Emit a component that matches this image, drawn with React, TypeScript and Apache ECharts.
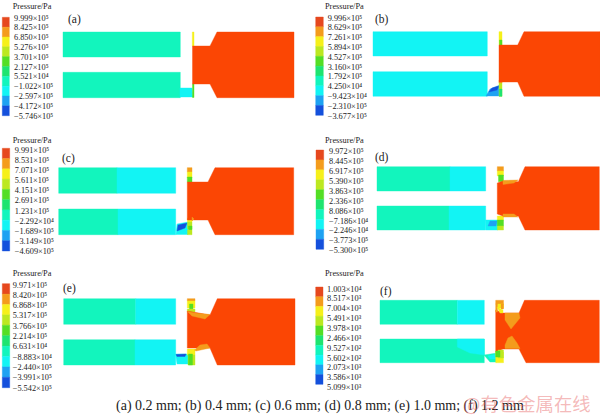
import React, { useEffect, useRef } from "react";
import * as echarts from "echarts";

const bandColors = ["#e6481e", "#f49c1c", "#f6f01a", "#bce820", "#54de24", "#1ee470", "#12f5bd", "#12f4f4", "#1ea2f2", "#1450dc"];
const bodyRed = "#fb4604";
const RED = 10;
const palette = [...bandColors, bodyRed];
const pressureTitle = "Pressure/Pa";

const labelsA = ["9.999×10⁵", "8.425×10⁵", "6.850×10⁵", "5.276×10⁵", "3.701×10⁵", "2.127×10⁵", "5.521×10⁴", "−1.022×10⁵", "−2.597×10⁵", "−4.172×10⁵", "−5.746×10⁵"];
const labelsB = ["9.996×10⁵", "8.629×10⁵", "7.261×10⁵", "5.894×10⁵", "4.527×10⁵", "3.160×10⁵", "1.792×10⁵", "4.250×10⁴", "−9.423×10⁴", "−2.310×10⁵", "−3.677×10⁵"];
const labelsC = ["9.991×10⁵", "8.531×10⁵", "7.071×10⁵", "5.611×10⁵", "4.151×10⁵", "2.691×10⁵", "1.231×10⁵", "−2.292×10⁴", "−1.689×10⁵", "−3.149×10⁵", "−4.609×10⁵"];
const labelsD = ["9.972×10⁵", "8.445×10⁵", "6.917×10⁵", "5.390×10⁵", "3.863×10⁵", "2.336×10⁵", "8.086×10⁵", "−7.186×10⁴", "−2.246×10⁴", "−3.773×10⁵", "−5.300×10⁵"];
const labelsE = ["9.971×10⁵", "8.420×10⁵", "6.868×10⁵", "5.317×10⁵", "3.766×10⁵", "2.214×10⁵", "6.631×10⁴", "−8.883×10⁴", "−2.440×10⁵", "−3.991×10⁵", "−5.542×10⁵"];
const labelsF = ["1.003×10⁴", "8.517×10³", "7.004×10³", "5.491×10³", "3.978×10³", "2.466×10³", "9.527×10²", "5.602×10²", "2.073×10³", "3.586×10³", "5.099×10³"];

const panelNames = ["(a)", "(b)", "(c)", "(d)", "(e)", "(f)"];
const panelLabels = [labelsA, labelsB, labelsC, labelsD, labelsE, labelsF];
const caption = "(a) 0.2 mm; (b) 0.4 mm; (c) 0.6 mm; (d) 0.8 mm; (e) 1.0 mm; (f) 1.2 mm";
const watermark = "@有色金属在线";

// [x0, x1, y0, y1, first label y, last label y, label x, title x, title y]
const legendBars = [
  [2.3, 9.3, 17.3, 115.7, 18, 116, 14, 12.7, 6.7],
  [315.7, 323.3, 17, 115.3, 18, 116, 327.7, 325, 6.7],
  [2.3, 9.7, 148.3, 251, 150, 251.7, 14.7, 12.7, 140],
  [316, 323.7, 150, 249.3, 151.7, 250.7, 329, 325, 140],
  [2.3, 9.7, 283.7, 387.7, 285, 388, 12.7, 12.7, 273.7],
  [315.7, 323, 287, 384.3, 289, 387.7, 327, 325, 273.7],
];
const panelTagPos = [[68, 19], [375, 19], [62, 157.5], [375, 157], [63, 288], [380, 290.5]];

type Shape = [number, number[]];
const poly = (c: number, ...p: number[]): Shape => [c, p];
const rect = (c: number, x0: number, y0: number, x1: number, y1: number): Shape => [c, [x0, y0, x1, y0, x1, y1, x0, y1]];

const shapesA: Shape[] = [
  rect(6, 63, 32, 180.3, 57),
  rect(6, 63, 72.3, 180.3, 97.7),
  poly(7, 180, 88, 192, 88, 193, 97, 180, 97),
  rect(2, 192.3, 32, 194, 46),
  rect(4, 192.5, 84, 194, 97.5),
  poly(RED, 192.5, 46, 210, 46, 217, 32, 294, 32, 294, 97.7, 217, 97.7, 210, 84, 192.5, 84),
];
const shapesB: Shape[] = [
  rect(7, 373, 31.7, 487.3, 56),
  rect(7, 373, 71.7, 487.3, 96.3),
  poly(8, 486, 96, 490, 89, 500, 85, 500, 96),
  poly(9, 489, 92, 492, 88, 499, 86, 497, 90),
  rect(2, 499, 31.7, 502, 45),
  rect(4, 499.5, 40, 502, 45),
  rect(3, 499, 82, 502, 96.3),
  rect(5, 499.5, 89, 502, 96.3),
  rect(1, 499, 80, 502, 83),
  poly(RED, 499, 45, 517.7, 45, 524, 31.7, 600, 31.7, 600, 96.3, 524, 96.3, 517.7, 82, 499, 82),
];
const shapesC: Shape[] = [
  rect(6, 58.7, 167.7, 117, 193.3),
  rect(7, 117, 167.7, 175.7, 193.3),
  rect(6, 58.7, 209, 118, 234.7),
  rect(7, 118, 209, 175.7, 234.7),
  poly(7, 176, 234.5, 177, 224, 188, 222, 188, 234.5),
  poly(9, 177, 231, 178, 225, 187, 223, 185, 228),
  rect(1, 187.3, 167.7, 192, 172),
  rect(2, 187.3, 172, 192, 178),
  rect(4, 187.3, 177, 192, 182),
  rect(2, 187.5, 218, 192, 222),
  rect(3, 187.5, 222, 192, 229),
  rect(4, 188.5, 226, 192, 230),
  rect(3, 187.5, 230, 192, 234.7),
  poly(RED, 187.3, 182, 208, 182, 215, 167.7, 293.7, 167.7, 293.7, 234.7, 215, 234.7, 208, 220, 187.3, 220),
  poly(1, 192, 217, 194, 219, 192, 221),
];
const shapesD: Shape[] = [
  rect(6, 377, 166.7, 450, 191),
  rect(7, 450, 166.7, 485.7, 191),
  rect(6, 377, 206, 449, 230),
  rect(7, 449, 206, 485.7, 230),
  poly(7, 485.5, 220, 498, 220, 498, 230, 486, 230),
  poly(8, 488, 226, 490, 221, 497, 221, 496, 226),
  rect(1, 497.3, 166.7, 503.5, 171),
  rect(2, 497.3, 171, 503.5, 176),
  rect(4, 498.5, 175, 503.5, 181.7),
  rect(2, 497.3, 216, 503.5, 220),
  rect(4, 497.3, 220, 503.5, 226),
  rect(3, 497.3, 226, 503.5, 230),
  poly(RED, 497.3, 183, 503, 181, 518.3, 181.7, 525, 166.7, 599.3, 166.7, 599.3, 230, 525, 230, 518.3, 216, 503, 216, 497.3, 214),
  poly(1, 503, 180.5, 518, 180, 514, 183, 503, 184.5),
  poly(1, 503, 214, 514, 214, 518, 217, 503, 217),
];
const shapesE: Shape[] = [
  rect(6, 63.7, 298.7, 135.7, 324.3),
  rect(7, 135.7, 298.7, 175.7, 324.3),
  rect(6, 63.7, 339.7, 135, 365),
  rect(7, 135, 339.7, 175.7, 365),
  poly(7, 175.5, 354, 188, 354, 188, 364, 177, 364),
  poly(9, 176, 354.5, 186, 354, 185, 356.5, 177, 356.5),
  rect(1, 187.3, 298.7, 195, 301),
  rect(2, 187.3, 301, 195, 308),
  rect(4, 189.5, 304, 193, 312),
  rect(3, 187.3, 309, 195, 312),
  rect(2, 187.3, 349, 195, 355),
  rect(3, 188, 355, 195, 365),
  rect(4, 188.5, 354, 192.5, 365),
  poly(RED, 187.3, 311, 210, 315, 217.3, 298.7, 295, 298.7, 295, 365, 217.3, 365, 210, 348, 187.3, 348),
  poly(1, 187.5, 311.5, 195, 313, 210, 314.5, 205, 319, 192, 316),
  poly(1, 194.5, 350, 200, 345, 207, 344, 210, 348, 196, 351),
];
const shapesF: Shape[] = [
  rect(6, 380, 300.3, 457.3, 324.3),
  rect(7, 457.3, 300.3, 484.3, 324.3),
  rect(6, 380, 339, 484.3, 362.7),
  poly(7, 457.3, 339, 484.3, 339, 484.3, 355, 470, 353, 457.3, 347),
  poly(6, 484, 355, 497, 353, 497, 362, 490, 362),
  poly(7, 488, 356, 497, 354, 497, 359, 490, 359),
  poly(RED, 495.7, 310, 503, 313, 519, 313, 524.5, 300.3, 599.3, 300.3, 599.3, 362.7, 526, 362.7, 519, 349, 503, 349, 495.7, 352),
  rect(1, 495.7, 300.3, 503.5, 304),
  rect(2, 497.5, 304, 503.5, 308),
  rect(1, 495.7, 304, 497.5, 312),
  rect(1, 501, 304, 503.5, 309),
  poly(2, 497, 307, 503, 310, 503, 313, 500, 313),
  poly(1, 505, 313, 519, 313, 520, 318, 511, 329, 505, 320),
  poly(1, 505, 345, 508, 338, 512, 336, 517, 343, 520, 348.5, 505, 348.5),
  rect(2, 495.7, 352, 503.5, 362.7),
  rect(3, 498, 350, 503.5, 358),
  rect(4, 495.7, 351, 500, 357),
];

const legendShapes: Shape[] = legendBars.flatMap(([x0, x1, y0, y1]) =>
  bandColors.map((_, i) => {
    const h = (y1 - y0) / bandColors.length;
    return rect(i, x0, y0 + h * i, x1, y0 + h * (i + 1));
  })
);

const allShapes: Shape[] = [...shapesA, ...shapesB, ...shapesC, ...shapesD, ...shapesE, ...shapesF, ...legendShapes];

const serif = "'Liberation Serif', 'Times New Roman', serif";

export default function App() {
  const ref = useRef<HTMLDivElement>(null);
  useEffect(() => {
    document.body.style.margin = "0";
    const chart = echarts.init(ref.current!, null, { renderer: "svg" });
    const texts: any[] = [];
    legendBars.forEach((b, p) => {
      texts.push({
        type: "text", x: b[7], y: b[8],
        style: { text: pressureTitle, font: `8.3px ${serif}`, fill: "#222", verticalAlign: "middle" },
      });
      panelLabels[p].forEach((t, i) => {
        const y = b[4] + ((b[5] - b[4]) * i) / (panelLabels[p].length - 1);
        texts.push({
          type: "text", x: b[6], y,
          style: { text: t, font: `8.3px ${serif}`, fill: "#222", verticalAlign: "middle" },
        });
      });
    });
    panelNames.forEach((t, i) => {
      texts.push({
        type: "text", x: panelTagPos[i][0], y: panelTagPos[i][1],
        style: { text: t, font: `11.5px ${serif}`, fill: "#222", verticalAlign: "middle" },
      });
    });
    texts.push({
      type: "text", x: 116, y: 405,
      style: { text: caption, font: `14px ${serif}`, fill: "#222", verticalAlign: "middle" },
    });
    texts.push({
      type: "text", x: 463, y: 403,
      style: { text: watermark, font: `18.4px 'Noto Sans CJK SC', sans-serif`, fill: "rgba(232,100,100,0.45)", verticalAlign: "middle" },
    });

    chart.setOption({
      animation: false,
      backgroundColor: "#ffffff",
      grid: { left: 0, right: 0, top: 0, bottom: 0 },
      xAxis: { type: "value", min: 0, max: 600, show: false },
      yAxis: { type: "value", min: 0, max: 419, inverse: true, show: false },
      graphic: texts,
      series: [
        {
          type: "custom",
          coordinateSystem: "cartesian2d",
          clip: false,
          silent: true,
          data: allShapes.map((_, i) => [i, 0]),
          encode: { x: 1, y: 1 },
          renderItem: (_p: any, api: any) => {
            const [c, pts] = allShapes[api.value(0)];
            const points: number[][] = [];
            for (let i = 0; i < pts.length; i += 2) points.push(api.coord([pts[i], pts[i + 1]]));
            return {
              type: "polygon",
              shape: { points },
              style: { fill: palette[c], stroke: palette[c], lineWidth: 0.4 },
            };
          },
        },
      ],
    });
    return () => chart.dispose();
  }, []);
  return <div ref={ref} style={{ position: "absolute", left: 0, top: 0, width: 600, height: 419 }} />;
}
